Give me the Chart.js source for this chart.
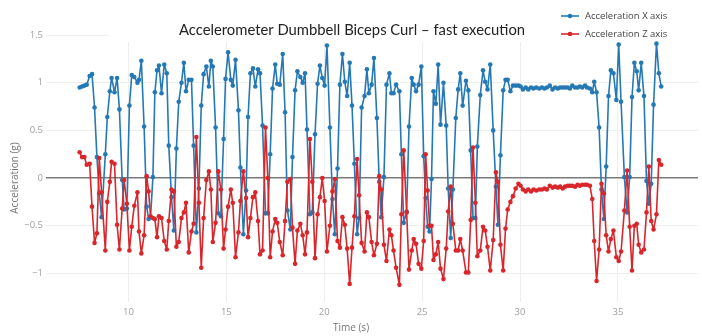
<!DOCTYPE html>
<html>
<head>
<meta charset="utf-8">
<script src="https://cdn.jsdelivr.net/npm/chart.js@4.4.0/dist/chart.umd.min.js"></script>
<style>
html, body { margin: 0; padding: 0; background: #fff; }
</style>
</head>
<body>
<canvas id="chart" width="702" height="336"></canvas>
<script>
// sample times (s)
var times = [
  7.51, 7.63, 7.75, 7.87, 8.02, 8.14, 8.27, 8.39, 8.51, 8.63, 8.82, 8.92, 9.05, 9.14, 9.29, 9.42, 9.54, 9.68, 9.78, 9.92,
  10.05, 10.17, 10.30, 10.46, 10.54, 10.66, 10.80, 10.93, 11.03, 11.13, 11.25, 11.35, 11.46, 11.56, 11.69, 11.83, 11.96, 12.06, 12.20, 12.32,
  12.45, 12.57, 12.71, 12.83, 12.94, 13.08, 13.22, 13.33,
  13.47, 13.60, 13.72, 13.84, 13.98, 14.11, 14.21, 14.31, 14.45, 14.59, 14.72, 14.86, 14.96, 15.09, 15.23, 15.33, 15.47, 15.62, 15.72, 15.87,
  16.01, 16.11, 16.23, 16.36, 16.48, 16.62, 16.72, 16.85, 17.00, 17.12, 17.24, 17.36, 17.50, 17.60, 17.73, 17.88, 18.00, 18.12, 18.27, 18.38,
  18.51, 18.63, 18.78, 18.90, 19.02, 19.12,
  19.27, 19.39, 19.53, 19.66, 19.78, 19.90, 20.02, 20.14, 20.29, 20.42, 20.54, 20.68, 20.80, 20.93, 21.05, 21.17, 21.30, 21.42, 21.54, 21.68,
  21.78, 21.91, 22.06, 22.18, 22.28, 22.42, 22.54, 22.69, 22.81, 22.91, 23.05, 23.18, 23.33, 23.43, 23.54, 23.67, 23.84, 23.94, 24.06, 24.21,
  24.33, 24.47, 24.57, 24.69, 24.82, 24.96,
  25.08, 25.18, 25.28, 25.38, 25.48, 25.58, 25.70, 25.82, 25.94, 26.09, 26.23, 26.33, 26.46, 26.57, 26.72, 26.84, 26.95, 27.07, 27.24, 27.36,
  27.48, 27.60, 27.72, 27.82, 27.97, 28.11, 28.22, 28.34, 28.48, 28.63, 28.77, 28.87, 29.00, 29.14, 29.26, 29.37, 29.51, 29.64, 29.78, 29.92,
  30.03, 30.15, 30.29, 30.42, 30.56, 30.69, 30.83,
  30.98, 31.12, 31.25, 31.37, 31.52, 31.66, 31.79, 31.93, 32.05, 32.18, 32.30, 32.44, 32.55, 32.67, 32.81, 32.94, 33.06, 33.18, 33.32, 33.42,
  33.57, 33.69, 33.79, 33.91, 34.04, 34.16, 34.28, 34.40, 34.52, 34.64, 34.77, 34.92, 35.04, 35.16, 35.33, 35.47, 35.60, 35.72, 35.84, 35.96,
  36.06, 36.19, 36.33, 36.46, 36.58, 36.70, 36.82, 36.97, 37.09, 37.21
];

var accX = [
  0.95, 0.96, 0.97, 0.98, 1.07, 1.09, 0.74, 0.22, -0.16, -0.41, 0.25, 0.64, 0.91, 1.05, 0.90, 1.05, 0.72, -0.02, -0.33, -0.32,
  0.76, 1.08, 1.06, 1.00, 1.03, 1.23, 0.54, -0.30, -0.43, -0.41, 0.01, 0.90, 1.13, 1.18, 0.89, 1.19, 1.10, 0.34, -0.20, -0.55,
  0.31, 0.80, 1.00, 1.21, 0.91, 1.03, 1.03, 0.34,
  -0.57, -0.11, 0.76, 1.09, 1.17, 0.96, 1.23, 1.17, 0.53, -0.37, -0.40, 0.41, 1.04, 1.32, 1.03, 0.97, 1.24, 0.71, 0.11, -0.59,
  -0.13, 0.64, 1.10, 1.15, 0.96, 1.14, 1.10, 0.55, -0.37, -0.37, 0.25, 0.94, 1.19, 0.99, 0.98, 1.30, 0.69, -0.34, -0.54, 0.22,
  0.92, 1.12, 1.06, 1.00, 1.10, 0.51,
  -0.38, -0.36, 0.46, 0.99, 1.18, 1.05, 0.97, 1.39, 0.53, -0.22, -0.59, 0.10, 0.98, 1.30, 1.01, 0.86, 1.21, 0.76, 0.15, -0.59,
  -0.42, 0.74, 0.86, 1.14, 0.89, 0.98, 1.26, 0.63, -0.04, -0.41, 0.01, 0.98, 1.10, 0.89, 0.89, 0.98, 0.91, 0.25, -0.47, -0.35,
  0.54, 1.05, 0.98, 0.91, 0.98, 1.17,
  0.23, -0.21, -0.51, -0.56, -0.01, 0.91, 0.78, 1.19, 0.56, 1.00, 0.55, -0.11, -0.63, -0.12, 0.63, 0.93, 1.10, 0.76, 1.02, 0.92,
  0.29, -0.42, -0.42, 0.33, 0.87, 1.13, 1.01, 0.93, 1.19, 0.50, -0.09, -0.49, 0.24, 0.92, 1.03, 1.03, 0.91, 0.97, 0.97, 0.97,
  0.96, 0.93, 0.95, 0.93, 0.95, 0.94, 0.95,
  0.94, 0.95, 0.94, 0.95, 0.97, 0.93, 0.95, 0.94, 0.95, 0.95, 0.95, 0.95, 0.94, 0.97, 0.95, 0.95, 0.96, 0.95, 0.97, 0.95,
  0.94, 0.90, 1.01, 0.90, 0.53, -0.12, -0.43, 0.12, 0.86, 1.13, 1.10, 0.82, 1.40, 0.80, 0.01, -0.36, 0.01, 0.85, 1.21, 1.12,
  0.92, 1.21, 0.86, -0.03, -0.27, -0.06, 0.77, 1.41, 1.10, 0.96
];

var accZ = [
  0.27, 0.22, 0.22, 0.14, 0.15, -0.30, -0.68, -0.58, 0.21, -0.15, -0.76, -0.25, -0.04, 0.17, 0.15, -0.49, -0.75, -0.32, -0.02, -0.27,
  -0.76, -0.51, -0.29, -0.15, -0.56, -0.79, -0.60, 0.02, -0.14, -0.40, -0.42, -0.43, -0.62, -0.40, -0.42, -0.66, -0.75, -0.45, -0.12, -0.14,
  -0.72, -0.67, -0.42, -0.36, -0.26, -0.78, -0.56, -0.48,
  0.43, -0.26, -0.94, -0.42, -0.02, 0.07, -0.12, -0.67, -0.47, 0.07, -0.12, -0.74, -0.54, -0.30, -0.12, -0.26, -0.83, -0.57, -0.24, 0.07,
  -0.21, -0.62, -0.42, -0.20, -0.15, -0.45, -0.80, -0.76, 0.53, 0.00, -0.83, -0.56, -0.43, -0.47, -0.67, -0.81, -0.45, -0.04, -0.01, -0.52,
  -0.90, -0.55, -0.48, -0.60, -0.80, -0.57,
  0.41, -0.04, -0.84, -0.38, -0.20, 0.00, -0.24, -0.77, -0.50, -0.14, -0.01, -0.66, -0.73, -0.41, -0.49, -0.74, -1.11, -0.73, -0.40, 0.20,
  -0.18, -0.68, -0.77, -0.36, -0.41, -0.67, -0.81, -0.69, 0.02, -0.12, -0.70, -0.87, -0.54, -0.60, -0.76, -0.94, -1.12, -0.38, 0.29, -0.36,
  -0.96, -0.76, -0.64, -0.69, -0.90, -0.95,
  -0.66, 0.25, -0.13, -0.50, -0.50, -0.86, -0.80, -0.67, -0.95, -1.06, -0.74, -0.35, -0.09, -0.48, -0.76, -0.76, -0.64, -0.76, -0.99, -0.99,
  -0.44, 0.32, -0.26, -0.82, -0.76, -0.51, -0.55, -0.72, -0.97, -0.65, 0.06, -0.04, -0.70, -0.97, -0.53, -0.33, -0.25, -0.19, -0.11, -0.06,
  -0.08, -0.12, -0.14, -0.12, -0.14, -0.12, -0.13,
  -0.12, -0.12, -0.11, -0.12, -0.08, -0.10, -0.09, -0.10, -0.09, -0.11, -0.09, -0.08, -0.08, -0.08, -0.09, -0.07, -0.08, -0.07, -0.07, -0.07,
  -0.08, -0.22, -0.66, -1.08, -0.75, -0.06, -0.16, -0.60, -0.77, -0.64, -0.55, -0.83, -0.87, -0.77, -0.34, 0.08, -0.51, -0.97, -0.50, -0.48,
  -0.70, -0.78, -0.75, -0.36, 0.12, -0.45, -0.54, -0.38, 0.19, 0.14
];

var xTicks = [10, 15, 20, 25, 30, 35];
var yTicks = [-1, -0.5, 0, 0.5, 1, 1.5];
var seriesNames = ['Acceleration X axis', 'Acceleration Z axis'];
var chartTitle = 'Accelerometer Dumbbell Biceps Curl \u2013 fast execution';
var xTitle = 'Time (s)';
var yTitle = 'Acceleration (g)';

var blue = '#2479b5';
var red = '#d8262b';

function toPoints(values) {
    return times.map(function(t, i) {
        return {x: t, y: values[i]};
    });
}

// title, legend and axis titles drawn by hand, plotly style
var decor = {
    id: 'decor',
    beforeDatasetsDraw: function(chart) {
        var c = chart.ctx;
        c.save();
        c.fillStyle = '#fff';
        c.fillRect(108, chart.chartArea.top - 1, 702 - 108, 42 - chart.chartArea.top + 1);
        c.restore();
    },
    afterDraw: function(chart) {
        var c = chart.ctx;
        c.save();
        c.textBaseline = 'middle';

        c.fillStyle = '#222';
        c.font = '14.8px Lato';
        c.textAlign = 'center';
        c.fillText(chartTitle, 352, 30);

        c.font = '9.5px "Open Sans"';
        c.textAlign = 'left';
        chart.data.datasets.forEach(function(ds, i) {
            var y = 16 + i * 18;
            c.strokeStyle = ds.borderColor;
            c.lineWidth = 1.6;
            c.beginPath();
            c.moveTo(561, y);
            c.lineTo(579, y);
            c.stroke();
            c.fillStyle = ds.borderColor;
            c.beginPath();
            c.arc(570, y, 2.3, 0, Math.PI * 2);
            c.fill();
            c.fillStyle = '#444';
            c.fillText(ds.label, 585, y);
        });

        c.fillStyle = '#777';
        c.font = '10px "Open Sans"';
        c.textAlign = 'center';
        c.fillText(xTitle, 351, 328);

        c.translate(15, 178);
        c.rotate(-Math.PI / 2);
        c.fillText(yTitle, 0, 0);
        c.restore();
    }
};

var ctx = document.getElementById('chart');
var myChart = new Chart(ctx, {
    type: 'line',
    data: {
        datasets: [{
            label: seriesNames[0],
            data: toPoints(accX),
            borderColor: blue,
            backgroundColor: blue,
            borderWidth: 1.6,
            borderJoinStyle: 'round',
            pointRadius: 2.3,
            pointBorderWidth: 0,
            order: 2
        }, {
            label: seriesNames[1],
            data: toPoints(accZ),
            borderColor: red,
            backgroundColor: red,
            borderWidth: 1.6,
            borderJoinStyle: 'round',
            pointRadius: 2.3,
            pointBorderWidth: 0,
            order: 1
        }]
    },
    options: {
        responsive: false,
        animation: false,
        layout: {
            padding: {top: 30, left: 0, right: 0, bottom: 0}
        },
        plugins: {
            legend: {display: false},
            title: {display: false},
            tooltip: {enabled: false}
        },
        scales: {
            x: {
                type: 'linear',
                min: 5.79,
                max: 39.09,
                afterBuildTicks: function(s) {
                    s.ticks = xTicks.map(function(v) { return {value: v}; });
                },
                afterFit: function(s) { s.height = 34; },
                border: {display: false},
                grid: {color: '#eeeeee', drawTicks: false},
                ticks: {
                    color: '#a0a0a0',
                    font: {family: 'Open Sans', size: 9.5},
                    padding: 5,
                    maxRotation: 0
                }
            },
            y: {
                min: -1.30,
                max: 1.553,
                afterBuildTicks: function(s) {
                    s.ticks = yTicks.map(function(v) { return {value: v}; });
                },
                afterFit: function(s) { s.width = 46; },
                border: {display: false},
                grid: {
                    drawTicks: false,
                    color: function(c) { return c.tick && c.tick.value === 0 ? '#7a7a7a' : '#eeeeee'; },
                    lineWidth: function(c) { return c.tick && c.tick.value === 0 ? 1.5 : 1; }
                },
                ticks: {
                    color: '#a0a0a0',
                    font: {family: 'Open Sans', size: 9.5},
                    padding: 3,
                    callback: function(v) {
                        return v < 0 ? '\u2212' + Math.abs(v) : String(v);
                    }
                }
            }
        }
    },
    plugins: [decor]
});
</script>
</body>
</html>
